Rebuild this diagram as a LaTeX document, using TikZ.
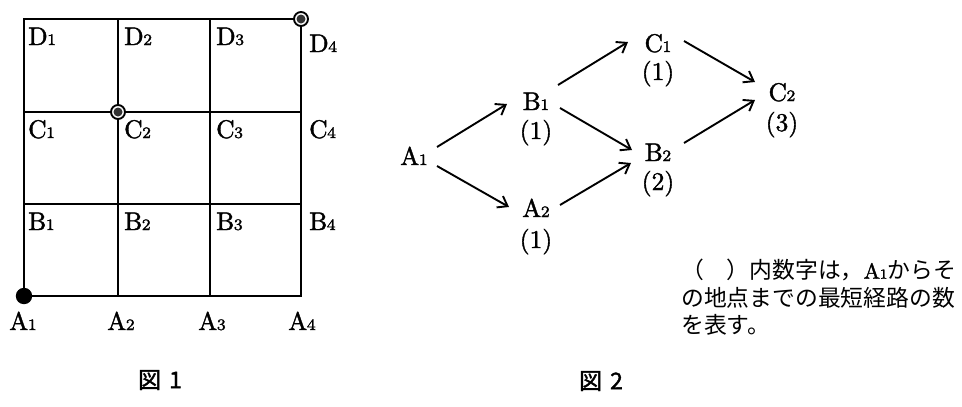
\documentclass[tikz,border=0pt]{standalone}
\usepackage{fontspec}
\newfontfamily\jp{Noto Sans CJK JP}
\newfontfamily\jpb{Noto Sans CJK JP}[FakeBold=1.6]
\newfontfamily\lmb{lmroman10-regular.otf}[FakeBold=1.5]
\newfontfamily\lms{lmroman7-regular.otf}[FakeBold=1.5]
\usetikzlibrary{arrows.meta}
\newcommand\lbl[2]{{\lmb\fontsize{25.5}{25.5}\selectfont #1\kern-0.6pt{\lms\fontsize{16}{16}\selectfont #2}}}
\newcommand\num[1]{{\lmb\fontsize{25.5}{25.5}\selectfont (#1)}}
\tikzset{
  grid/.style={line width=2.2pt, line cap=rect},
  lab/.style={anchor=base west, inner sep=0pt},
  lab2/.style={anchor=base, inner sep=0pt},
  arr/.style={line width=1.9pt, -{Straight Barb[length=9pt,width=13pt,line width=1.9pt]}},
  captxt/.style={inner sep=0pt, font=\jpb\fontsize{23}{23}\selectfont},
  ring/.style={draw, line width=1.9pt, fill=white},
}
\begin{document}
\begin{tikzpicture}[x=1pt,y=-1pt]
\useasboundingbox (0,0) rectangle (962,407);
% Figure 1 grid
\draw[grid] (24,19) rectangle (301,296);
\draw[grid] (118,19) -- (118,296) (210,19) -- (210,296);
\draw[grid] (24,112) -- (301,112) (24,204) -- (301,204);
% points
\fill (24,296) circle (8.2);
\draw[ring] (118,112) circle (7);
\fill[black!80] (118,112) circle (4.5);
\draw[ring] (301,19) circle (7);
\fill[black!80] (301,19) circle (4.5);
% labels
\node[lab] (d1) at (28,45) {\lbl{D}{1}};
\node[lab] (d2) at (124,45) {\lbl{D}{2}};
\node[lab] (d3) at (216,45) {\lbl{D}{3}};
\node[lab] (d4) at (309,52) {\lbl{D}{4}};
\node[lab] (c1) at (28,138) {\lbl{C}{1}};
\node[lab] (c2) at (124,138) {\lbl{C}{2}};
\node[lab] (c3) at (216,138) {\lbl{C}{3}};
\node[lab] (c4) at (309,138) {\lbl{C}{4}};
\node[lab] (b1) at (28,230) {\lbl{B}{1}};
\node[lab] (b2) at (124,230) {\lbl{B}{2}};
\node[lab] (b3) at (216,230) {\lbl{B}{3}};
\node[lab] (b4) at (309,230) {\lbl{B}{4}};
\node[lab] (a1) at (9,330) {\lbl{A}{1}};
\node[lab] (a2) at (107,330) {\lbl{A}{2}};
\node[lab] (a3) at (198,330) {\lbl{A}{3}};
\node[lab] (a4) at (288,330) {\lbl{A}{4}};
\node[captxt] (fig1) at (160,380) {図\hspace{0.35em}1};
% Figure 2
\node[lab2] (A1) at (414,165) {\lbl{A}{1}};
\node[lab2] (B1) at (536,110) {\lbl{B}{1}};
\node[lab2] (nB1) at (536,139) {\num{1}};
\node[lab2] (A2) at (536,217) {\lbl{A}{2}};
\node[lab2] (nA2) at (536,248) {\num{1}};
\node[lab2] (C1) at (658,52) {\lbl{C}{1}};
\node[lab2] (nC1) at (658,80) {\num{1}};
\node[lab2] (B2) at (658,161) {\lbl{B}{2}};
\node[lab2] (nB2) at (658,190) {\num{2}};
\node[lab2] (C2) at (782,101) {\lbl{C}{2}};
\node[lab2] (nC2) at (782,131) {\num{3}};
\draw[arr] ([shift={(23,-18)}]A1.base) -- ([shift={(-29,-6)}]B1.base);
\draw[arr] ([shift={(23,1)}]A1.base) -- ([shift={(-27,-10)}]A2.base);
\draw[arr] ([shift={(22,-25)}]B1.base) -- ([shift={(-30,-10)}]C1.base);
\draw[arr] ([shift={(24,-2)}]B1.base) -- ([shift={(-26,-11)}]B2.base);
\draw[arr] ([shift={(24,-12)}]A2.base) -- ([shift={(-27,2)}]B2.base);
\draw[arr] ([shift={(26,-11)}]C1.base) -- ([shift={(-27,-19)}]C2.base);
\draw[arr] ([shift={(26,-18)}]B2.base) -- ([shift={(-27,-1)}]C2.base);
\node[anchor=north west, inner sep=0pt, align=left, font=\jp\fontsize{22.8}{27.5}\selectfont] (note) at (681,259)
  {（　）内数字は，{\lmb\fontsize{22}{22}\selectfont A\kern-0.5pt{\lms\fontsize{14}{14}\selectfont 1}}からそ\\の地点までの最短経路の数\\を表す。};
\node[captxt] (fig2) at (601,381) {図\hspace{0.35em}2};
\end{tikzpicture}
\end{document}
